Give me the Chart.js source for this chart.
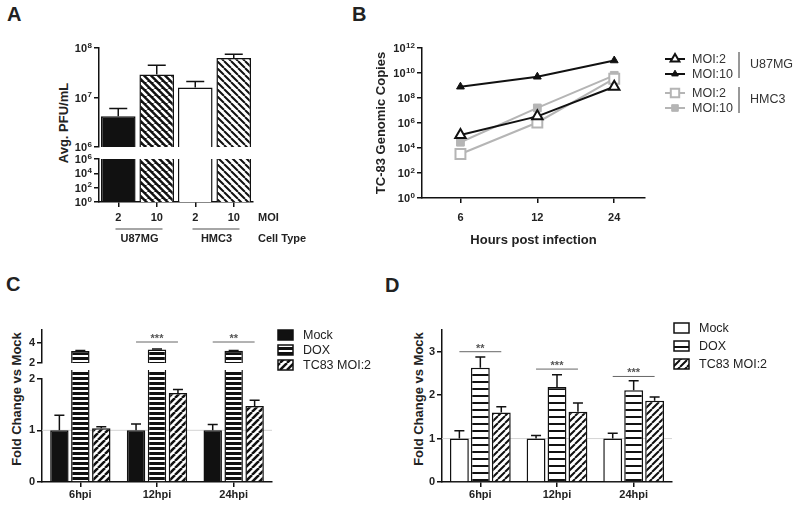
<!DOCTYPE html>
<html>
<head>
<meta charset="utf-8">
<script src="https://cdn.jsdelivr.net/npm/chart.js@4.4.1/dist/chart.umd.min.js"></script>
<style>
  body { margin: 0; background: #fff; }
  #fig { position: relative; width: 800px; height: 511px; overflow: hidden; background: #fff;
         font-family: 'Liberation Sans', Arial, Helvetica, sans-serif; color: #222; }
  #fig canvas { position: absolute; }
  .panel { position: absolute; font-size: 20px; font-weight: bold; line-height: 20px; }
  .ytitle { position: absolute; font-size: 13px; font-weight: bold; white-space: nowrap;
            transform: translate(-50%, -50%) rotate(-90deg); }
</style>
</head>
<body>
<div id="fig">
  <div class="panel" style="left:7px;top:4px">A</div>
  <div class="panel" style="left:352px;top:4px">B</div>
  <div class="panel" style="left:6px;top:274px">C</div>
  <div class="panel" style="left:385px;top:275px">D</div>

  <div class="ytitle" style="left:63px;top:123px">Avg. PFU/mL</div>
  <div class="ytitle" style="left:16px;top:399px">Fold Change vs Mock</div>
  <div class="ytitle" style="left:418px;top:399px">Fold Change vs Mock</div>

  <canvas id="chartA1" width="270" height="113" style="left:0;top:40px"></canvas>
  <canvas id="chartA2" width="330" height="100" style="left:0;top:150px"></canvas>
  <canvas id="chartB" width="460" height="225" style="left:340px;top:30px"></canvas>
  <canvas id="chartC1" width="400" height="76" style="left:0;top:300px"></canvas>
  <canvas id="chartC2" width="400" height="141" style="left:0;top:370px"></canvas>
  <canvas id="chartD" width="400" height="193" style="left:400px;top:318px"></canvas>
</div>

<script>
const FONT = "'Liberation Sans', Arial, Helvetica, sans-serif";
Chart.defaults.font.family = FONT;
Chart.defaults.color = '#222';

// ---- panel A: titres by cell type / MOI
const cellTypes = ['U87MG', 'HMC3'];
const moiLabels = ['2', '10', '2', '10'];
const pfuMean = [4.2e6, 2.9e7, 1.6e7, 6.3e7];
const pfuHi = [6.0e6, 4.5e7, 2.1e7, 7.5e7];
const yTicksAUpper = [1e6, 1e7, 1e8];
const yTicksALower = [1e0, 1e2, 1e4, 1e6];

// ---- panel B: genome copies over time
const hours = ['6', '12', '24'];
const u87Moi2 = [1.1e5, 3.4e6, 8.0e8];
const u87Moi10 = [8.0e8, 5.0e9, 1.0e11];
const hmcMoi2 = [3.3e3, 1.1e6, 3.5e9];
const hmcMoi10 = [2.9e4, 1.6e7, 6.5e9];
const yTicksB = [1e0, 1e2, 1e4, 1e6, 1e8, 1e10, 1e12];

// ---- panels C and D: fold change vs mock
const timepoints = ['6hpi', '12hpi', '24hpi'];
const treatments = ['Mock', 'DOX', 'TC83 MOI:2'];
const cMock = [1, 1, 1];
const cMockHi = [1.29, 1.12, 1.11];
const cDox = [3.2, 3.35, 3.22];
const cDoxHi = [3.24, 3.39, 3.26];
const cTc83 = [1.04, 1.72, 1.47];
const cTc83Hi = [1.07, 1.79, 1.58];
const sigC = ['', '***', '**'];
const sigCLevel = [0, 4.1, 4.1];
const yTicksCUpper = [2, 4];
const yTicksCLower = [0, 1, 2];

const dMock = [1, 1, 1];
const dMockHi = [1.18, 1.07, 1.12];
const dDox = [2.63, 2.19, 2.11];
const dDoxHi = [2.88, 2.47, 2.33];
const dTc83 = [1.6, 1.62, 1.87];
const dTc83Hi = [1.73, 1.82, 1.96];
const sigD = ['**', '***', '***'];
const sigDLevel = [3.0, 2.6, 2.43];
const yTicksD = [0, 1, 2, 3];

// ---------- helpers
function hatch(bg, fg, kind, size, lw) {
  const c = document.createElement('canvas');
  c.width = size; c.height = size;
  const g = c.getContext('2d');
  g.fillStyle = bg;
  g.fillRect(0, 0, size, size);
  g.fillStyle = fg;
  g.strokeStyle = fg;
  g.lineWidth = lw;
  if (kind === 'h') {
    g.fillRect(0, 0, size, lw);
  } else {
    g.beginPath();
    for (let k = -1; k <= 1; k++) {
      if (kind === 'back') { g.moveTo(k * size, 0); g.lineTo((k + 1) * size, size); }
      else { g.moveTo(k * size, size); g.lineTo((k + 1) * size, 0); }
    }
    g.stroke();
  }
  return g.createPattern(c, 'repeat');
}

// fmt null -> log axis, labels drawn as 10 + raised exponent by powLabels
function yAxis(type, min, max, values, width, fmt) {
  return {
    type, min, max,
    afterBuildTicks: s => { s.ticks = values.map(v => ({ value: v })); },
    afterFit: s => { s.width = width; },
    border: { color: '#111', width: 1.5 },
    grid: { drawOnChartArea: false, color: '#111', lineWidth: 1.5, tickLength: 5 },
    ticks: { display: !!fmt, color: '#222', font: { size: 11, weight: 'bold' }, padding: 2, autoSkip: false, callback: fmt || undefined }
  };
}

function xCat(height, pad, show) {
  return {
    display: show,
    offset: true,
    afterFit: s => { s.height = height; },
    border: { color: '#111', width: 1.5 },
    grid: { drawOnChartArea: false, offset: false, color: '#111', lineWidth: 1.5, tickLength: 5 },
    ticks: { color: '#222', font: { size: 11, weight: 'bold' }, padding: pad, maxRotation: 0, autoSkip: false }
  };
}

const powLabels = {
  id: 'powLabels',
  afterDraw(chart) {
    const s = chart.scales.y;
    const ctx = chart.ctx;
    ctx.save();
    ctx.fillStyle = '#222';
    ctx.textAlign = 'right';
    ctx.textBaseline = 'alphabetic';
    s.ticks.forEach(t => {
      const y = s.getPixelForValue(t.value);
      const e = String(Math.round(Math.log10(t.value)));
      const right = s.right - 7;
      ctx.font = 'bold 8px ' + FONT;
      const ew = ctx.measureText(e).width;
      ctx.fillText(e, right, y - 0.5);
      ctx.font = 'bold 11px ' + FONT;
      ctx.fillText('10', right - ew - 0.5, y + 4);
    });
    ctx.restore();
  }
};

// error bars (upper whisker only), read from dataset.hi
const errorBars = {
  id: 'errorBars',
  afterDatasetsDraw(chart, args, o) {
    const { ctx, chartArea: a } = chart;
    ctx.save();
    ctx.beginPath();
    ctx.rect(a.left, a.top - 1, a.right - a.left, a.bottom - a.top + 1);
    ctx.clip();
    ctx.strokeStyle = '#111';
    ctx.lineWidth = 1.5;
    chart.data.datasets.forEach((ds, i) => {
      if (!ds.hi) return;
      const meta = chart.getDatasetMeta(i);
      const ys = chart.scales[meta.yAxisID];
      meta.data.forEach((bar, j) => {
        const top = ys.getPixelForValue(ds.hi[j]);
        ctx.beginPath();
        ctx.moveTo(bar.x, bar.y);
        ctx.lineTo(bar.x, top);
        ctx.moveTo(bar.x - o.cap / 2, top);
        ctx.lineTo(bar.x + o.cap / 2, top);
        ctx.stroke();
      });
    });
    ctx.restore();
  }
};

const refLine = {
  id: 'refLine',
  beforeDatasetsDraw(chart, args, o) {
    const { ctx, chartArea: a } = chart;
    const y = chart.scales.y.getPixelForValue(o.value);
    ctx.save();
    ctx.strokeStyle = '#d4d4d4';
    ctx.lineWidth = 1;
    ctx.beginPath();
    ctx.moveTo(a.left, y);
    ctx.lineTo(a.right, y);
    ctx.stroke();
    ctx.restore();
  }
};

const sigMarks = {
  id: 'sigMarks',
  afterDraw(chart, args, o) {
    const ctx = chart.ctx;
    const first = chart.getDatasetMeta(0).data;
    const last = chart.getDatasetMeta(chart.data.datasets.length - 1).data;
    ctx.save();
    ctx.strokeStyle = '#666';
    ctx.fillStyle = '#555';
    ctx.lineWidth = 1;
    ctx.font = 'bold 11px ' + FONT;
    ctx.textAlign = 'center';
    ctx.textBaseline = 'alphabetic';
    o.labels.forEach((txt, i) => {
      if (!txt) return;
      const y = chart.scales.y.getPixelForValue(o.levels[i]);
      const x0 = first[i].x, x1 = last[i].x;
      ctx.beginPath();
      ctx.moveTo(x0, y);
      ctx.lineTo(x1, y);
      ctx.stroke();
      ctx.fillText(txt, (x0 + x1) / 2, y + o.dy);
    });
    ctx.restore();
  }
};

const boxLegend = {
  id: 'boxLegend',
  afterDraw(chart, args, o) {
    const ctx = chart.ctx;
    ctx.save();
    ctx.font = '12.5px ' + FONT;
    ctx.textBaseline = 'middle';
    chart.data.datasets.forEach((ds, i) => {
      const y = o.y + i * o.step;
      ctx.fillStyle = ds.backgroundColor;
      ctx.fillRect(o.x, y - 5, 15, 10);
      ctx.strokeStyle = '#111';
      ctx.lineWidth = 1.5;
      ctx.strokeRect(o.x, y - 5, 15, 10);
      ctx.fillStyle = '#222';
      ctx.fillText(ds.label, o.x + 25, y + 1);
    });
    ctx.restore();
  }
};

function marker(ctx, style, x, y, r, fill, stroke, lw) {
  ctx.beginPath();
  if (style === 'triangle') {
    ctx.moveTo(x, y - r);
    ctx.lineTo(x + 0.866 * r, y + 0.5 * r);
    ctx.lineTo(x - 0.866 * r, y + 0.5 * r);
    ctx.closePath();
  } else {
    const h = r * Math.SQRT1_2;
    ctx.rect(x - h, y - h, 2 * h, 2 * h);
  }
  ctx.fillStyle = fill;
  ctx.fill();
  ctx.strokeStyle = stroke;
  ctx.lineWidth = lw;
  ctx.stroke();
}

const lineLegend = {
  id: 'lineLegend',
  afterDraw(chart, args, o) {
    const ctx = chart.ctx;
    ctx.save();
    ctx.font = '12.5px ' + FONT;
    ctx.textBaseline = 'middle';
    chart.data.datasets.forEach((ds, i) => {
      const y = o.rows[i];
      ctx.strokeStyle = ds.borderColor;
      ctx.lineWidth = ds.borderWidth;
      ctx.beginPath();
      ctx.moveTo(o.x0, y);
      ctx.lineTo(o.x0 + 20, y);
      ctx.stroke();
      marker(ctx, ds.pointStyle, o.x0 + 10, y, ds.pointRadius * 0.85, ds.pointBackgroundColor, ds.pointBorderColor, ds.pointBorderWidth);
      ctx.fillStyle = '#333';
      ctx.fillText(ds.label, o.x0 + 27, y + 1);
    });
    ctx.strokeStyle = '#333';
    ctx.lineWidth = 1;
    o.groups.forEach((g, k) => {
      ctx.beginPath();
      ctx.moveTo(o.barX, o.spans[2 * k]);
      ctx.lineTo(o.barX, o.spans[2 * k + 1]);
      ctx.stroke();
      ctx.fillText(g, o.barX + 11, (o.spans[2 * k] + o.spans[2 * k + 1]) / 2);
    });
    ctx.restore();
  }
};

// MOI / cell-type rows under panel A
const groupAxis = {
  id: 'groupAxis',
  afterDraw(chart, args, o) {
    const ctx = chart.ctx;
    const x = chart.scales.x;
    ctx.save();
    ctx.font = 'bold 11px ' + FONT;
    ctx.fillStyle = '#222';
    ctx.textBaseline = 'middle';
    ctx.textAlign = 'left';
    ctx.fillText('MOI', o.titleX, o.row1);
    ctx.fillText('Cell Type', o.titleX, o.row2);
    ctx.textAlign = 'center';
    o.groups.forEach((name, g) => {
      const c = (x.getPixelForValue(2 * g) + x.getPixelForValue(2 * g + 1)) / 2;
      ctx.strokeStyle = '#888';
      ctx.lineWidth = 1.5;
      ctx.beginPath();
      ctx.moveTo(c - 22, o.lineY);
      ctx.lineTo(c + 25, o.lineY);
      ctx.stroke();
      ctx.fillText(name, c + 2, o.row2);
    });
    ctx.restore();
  }
};

const base = {
  responsive: false,
  animation: false,
  events: []
};

// ---------- panel A (broken log axis: two stacked charts)
function pfuSet() {
  return [{
    data: pfuMean,
    hi: pfuHi,
    backgroundColor: ['#111', hatch('#111', '#fff', 'back', 7, 2.5), '#fff', hatch('#fff', '#111', 'back', 7, 2)],
    borderColor: '#111',
    borderWidth: 1.5,
    categoryPercentage: 1,
    barPercentage: 0.9,
    clip: 0
  }];
}

new Chart(document.getElementById('chartA1'), {
  type: 'bar',
  data: { labels: moiLabels, datasets: pfuSet() },
  options: Object.assign({}, base, {
    layout: { padding: { top: 8, bottom: 6, right: 17, left: 0 } },
    plugins: { legend: { display: false }, tooltip: { enabled: false }, errorBars: { cap: 18 } },
    scales: { x: xCat(0, 0, false), y: yAxis('logarithmic', 1e6, 1e8, yTicksAUpper, 99, null) }
  }),
  plugins: [errorBars, powLabels]
});

new Chart(document.getElementById('chartA2'), {
  type: 'bar',
  data: { labels: moiLabels, datasets: pfuSet() },
  options: Object.assign({}, base, {
    layout: { padding: { top: 9, bottom: 0, right: 77, left: 0 } },
    plugins: {
      legend: { display: false }, tooltip: { enabled: false },
      groupAxis: { groups: cellTypes, titleX: 258, row1: 68, row2: 89, lineY: 79 }
    },
    scales: { x: xCat(48, 4, true), y: yAxis('logarithmic', 1, 1e6, yTicksALower, 99, null) }
  }),
  plugins: [groupAxis, powLabels]
});

// ---------- panel B
const pts = arr => arr.map((v, i) => ({ x: i + 1, y: v }));
new Chart(document.getElementById('chartB'), {
  type: 'line',
  data: {
    datasets: [
      { label: 'MOI:2', data: pts(u87Moi2), borderColor: '#111', borderWidth: 2, pointStyle: 'triangle', pointRadius: 6,
        pointBackgroundColor: '#fff', pointBorderColor: '#111', pointBorderWidth: 2 },
      { label: 'MOI:10', data: pts(u87Moi10), borderColor: '#111', borderWidth: 2, pointStyle: 'triangle', pointRadius: 4.5,
        pointBackgroundColor: '#111', pointBorderColor: '#111', pointBorderWidth: 1 },
      { label: 'MOI:2', data: pts(hmcMoi2), borderColor: '#b5b5b5', borderWidth: 2, pointStyle: 'rect', pointRadius: 7,
        pointBackgroundColor: '#fff', pointBorderColor: '#b5b5b5', pointBorderWidth: 2 },
      { label: 'MOI:10', data: pts(hmcMoi10), borderColor: '#b5b5b5', borderWidth: 2, pointStyle: 'rect', pointRadius: 5.5,
        pointBackgroundColor: '#b5b5b5', pointBorderColor: '#b5b5b5', pointBorderWidth: 1 }
    ]
  },
  options: Object.assign({}, base, {
    layout: { padding: { top: 18, bottom: 0, right: 155, left: 0 } },
    elements: { line: { tension: 0 } },
    plugins: {
      legend: { display: false }, tooltip: { enabled: false },
      lineLegend: { x0: 325, rows: [29, 44, 63, 78], barX: 399, groups: cellTypes, spans: [22, 48, 57, 83] }
    },
    scales: {
      x: {
        type: 'linear', min: 0.5, max: 3.4,
        afterBuildTicks: s => { s.ticks = hours.map((h, i) => ({ value: i + 1 })); },
        afterFit: s => { s.height = 57; },
        border: { color: '#111', width: 1.5 },
        grid: { drawOnChartArea: false, color: '#111', lineWidth: 1.5, tickLength: 5 },
        ticks: { color: '#222', font: { size: 11, weight: 'bold' }, padding: 8, callback: v => hours[v - 1] },
        title: { display: true, text: 'Hours post infection', color: '#222', font: { size: 13, weight: 'bold' }, padding: { top: 0, bottom: 7 } }
      },
      y: Object.assign(yAxis('logarithmic', 1, 1e12, yTicksB, 82, null), {
        title: { display: true, text: 'TC-83 Genomic Copies', color: '#222', font: { size: 13, weight: 'bold' }, padding: { top: 34, bottom: 0 } }
      })
    }
  }),
  plugins: [lineLegend, powLabels]
});

// ---------- panel C (broken linear axis: two stacked charts, bars continuous)
function cSets(clipTop) {
  return [
    { label: treatments[0], data: cMock, hi: cMockHi, backgroundColor: '#111' },
    { label: treatments[1], data: cDox, hi: cDoxHi, backgroundColor: hatch('#111', '#fff', 'h', 5, 2) },
    { label: treatments[2], data: cTc83, hi: cTc83Hi, backgroundColor: hatch('#fff', '#111', 'fwd', 7, 2.5) }
  ].map(d => Object.assign(d, {
    borderColor: '#111', borderWidth: 1.5, categoryPercentage: 0.82, barPercentage: 0.88,
    clip: { left: 0, right: 0, bottom: 0, top: clipTop }
  }));
}

new Chart(document.getElementById('chartC1'), {
  type: 'bar',
  data: { labels: timepoints, datasets: cSets(0) },
  options: Object.assign({}, base, {
    layout: { padding: { top: 30, bottom: 13, right: 128, left: 0 } },
    plugins: {
      legend: { display: false }, tooltip: { enabled: false },
      errorBars: { cap: 10 },
      sigMarks: { labels: sigC, levels: sigCLevel, dy: 0 },
      boxLegend: { x: 278, y: 35, step: 15 }
    },
    scales: { x: xCat(0, 0, false), y: yAxis('linear', 2, 5.3, yTicksCUpper, 42, v => v) }
  }),
  plugins: [errorBars, sigMarks, boxLegend]
});

new Chart(document.getElementById('chartC2'), {
  type: 'bar',
  data: { labels: timepoints, datasets: cSets(14) },
  options: Object.assign({}, base, {
    layout: { padding: { top: 7, bottom: 0, right: 128, left: 0 } },
    plugins: {
      legend: { display: false }, tooltip: { enabled: false },
      errorBars: { cap: 10 },
      refLine: { value: 1 }
    },
    scales: { x: xCat(29, 1, true), y: yAxis('linear', 0, 2, yTicksCLower, 42, v => v) }
  }),
  plugins: [refLine, errorBars]
});

// ---------- panel D
new Chart(document.getElementById('chartD'), {
  type: 'bar',
  data: {
    labels: timepoints,
    datasets: [
      { label: treatments[0], data: dMock, hi: dMockHi, backgroundColor: '#fff' },
      { label: treatments[1], data: dDox, hi: dDoxHi, backgroundColor: hatch('#fff', '#111', 'h', 7, 2) },
      { label: treatments[2], data: dTc83, hi: dTc83Hi, backgroundColor: hatch('#fff', '#111', 'fwd', 7, 2) }
    ].map(d => Object.assign(d, { borderColor: '#111', borderWidth: 1.5, categoryPercentage: 0.82, barPercentage: 0.9, clip: 0 }))
  },
  options: Object.assign({}, base, {
    layout: { padding: { top: 12, bottom: 0, right: 128, left: 0 } },
    plugins: {
      legend: { display: false }, tooltip: { enabled: false },
      errorBars: { cap: 10 },
      refLine: { value: 1 },
      sigMarks: { labels: sigD, levels: sigDLevel, dy: 0 },
      boxLegend: { x: 274, y: 10, step: 18 }
    },
    scales: { x: xCat(29, 1, true), y: yAxis('linear', 0, 3.5, yTicksD, 42, v => v) }
  }),
  plugins: [refLine, errorBars, sigMarks, boxLegend]
});
</script>
</body>
</html>
